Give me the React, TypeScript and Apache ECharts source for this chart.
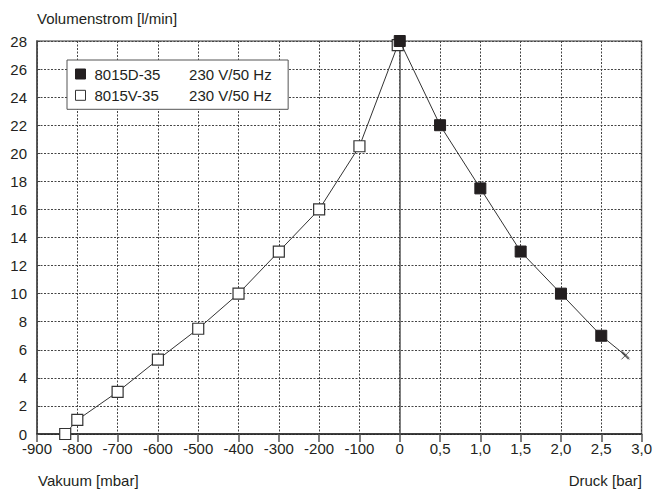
import React, { useEffect, useRef } from "react";
import * as echarts from "echarts";

// Vacuum side (8015V-35), x in mbar
const vacuumMbar = [-830, -800, -700, -600, -500, -400, -300, -200, -100, -5];
const vacuumFlow = [0, 1, 3, 5.3, 7.5, 10, 13, 16, 20.5, 27.7];
// Pressure side (8015D-35), x in bar
const pressureBar = [0, 0.5, 1.0, 1.5, 2.0, 2.5];
const pressureFlow = [28, 22, 17.5, 13, 10, 7];
const pressureEnd = [2.8, 5.6];

const seriesNames = ["8015D-35", "8015V-35"];
const supplyLabel = "230 V/50 Hz";
const yTitle = "Volumenstrom [l/min]";
const xTitleLeft = "Vakuum [mbar]";
const xTitleRight = "Druck [bar]";

// axis unit: 1 unit = 100 mbar on the left, 0.5 bar on the right
const fromMbar = (v: number) => v / 100;
const fromBar = (v: number) => v * 2;
const tickLabel = (u: number) =>
  u <= 0 ? String(Math.round(u * 100)) : (u / 2).toFixed(1).replace(".", ",");

const FONT = "'Liberation Sans', Arial, Helvetica, sans-serif";
const TXT = "#231f20";

export default function App() {
  const ref = useRef<HTMLDivElement>(null);
  useEffect(() => {
    document.body.style.margin = "0";
    if (!ref.current) return;
    const chart = echarts.init(ref.current, undefined, { renderer: "svg" });
    const vacData = vacuumMbar.map((x, i) => [fromMbar(x), vacuumFlow[i]]);
    const presData: any[] = pressureBar.map((x, i) => [fromBar(x), pressureFlow[i]]);
    presData.push({
      value: [fromBar(pressureEnd[0]), pressureEnd[1]],
      symbol: "path://M0,0L10,10M10,0L0,10M1.5,0L10,8.5M0,1.5L8.5,10",
      symbolSize: 8,
      itemStyle: { color: "none", borderColor: "#333", borderWidth: 0.8 },
    });
    chart.setOption({
      animation: false,
      backgroundColor: "#fff",
      textStyle: { fontFamily: FONT, color: TXT },
      grid: {
        left: 37,
        right: 13,
        top: 41,
        bottom: 56,
        show: true,
        borderColor: "#7a7a7a",
        borderWidth: 1.5,
        containLabel: false,
      },
      legend: {
        left: 67,
        top: 60,
        orient: "vertical",
        padding: [6.5, 16.5, 6.5, 8],
        itemGap: 6.3,
        itemWidth: 10,
        itemHeight: 10,
        backgroundColor: "#fff",
        borderColor: "#555",
        borderWidth: 1,
        borderRadius: 0,
        data: [
          { name: seriesNames[0], icon: "rect", itemStyle: { color: "#231f20", borderColor: "#231f20", borderWidth: 1 } },
          { name: seriesNames[1], icon: "rect", itemStyle: { color: "#fff", borderColor: "#333", borderWidth: 1 } },
        ],
        formatter: (name: string) => `{n|${name}}{v|${supplyLabel}}`,
        textStyle: {
          fontFamily: FONT,
          fontSize: 15,
          color: TXT,
          rich: {
            n: { width: 94.6, padding: [0, 0, 0, 4], fontSize: 15, lineHeight: 17, fontFamily: FONT, color: TXT },
            v: { fontSize: 15, lineHeight: 17, fontFamily: FONT, color: TXT },
          },
        },
      },
      xAxis: {
        type: "value",
        min: -9,
        max: 6,
        interval: 1,
        axisLine: { show: true, onZero: false, lineStyle: { color: "#222", width: 1.5 } },
        axisTick: { show: true, inside: false, length: 8, lineStyle: { color: "#555", width: 1.5 } },
        axisLabel: {
          formatter: tickLabel,
          fontSize: 15,
          color: TXT,
          fontFamily: FONT,
          margin: 7,
        },
        splitLine: { show: true, lineStyle: { color: "#444", width: 1, type: [2, 1.5] } },
      },
      yAxis: {
        type: "value",
        min: 0,
        max: 28,
        interval: 2,
        name: yTitle,
        nameLocation: "end",
        nameGap: 23,
        nameTextStyle: { align: "left", verticalAlign: "middle", fontSize: 15, color: TXT, fontFamily: FONT },
        axisLine: { show: true, onZero: false, lineStyle: { color: "#444", width: 1.5 } },
        axisTick: { show: true, inside: true, length: 3, lineStyle: { color: "#444", width: 1 } },
        axisLabel: { fontSize: 15, color: TXT, fontFamily: FONT, margin: 10 },
        splitLine: { show: true, lineStyle: { color: "#444", width: 1, type: [2, 1.5] } },
      },
      series: [
        {
          name: seriesNames[1],
          type: "line",
          data: vacData,
          symbol: "rect",
          symbolSize: 11,
          showAllSymbol: true,
          lineStyle: { color: "#333", width: 1 },
          itemStyle: { color: "#fff", borderColor: "#333", borderWidth: 1.2 },
          z: 3,
          markLine: {
            silent: true,
            symbol: "none",
            label: { show: false },
            lineStyle: { color: "#555", width: 1.5, type: "solid" },
            data: [{ xAxis: 0 }],
            z: 2,
          },
        },
        {
          name: seriesNames[0],
          type: "line",
          data: presData,
          symbol: "rect",
          symbolSize: 11,
          showAllSymbol: true,
          lineStyle: { color: "#333", width: 1 },
          itemStyle: { color: "#231f20", borderColor: "#231f20", borderWidth: 1 },
          z: 4,
        },
      ],
      graphic: [
        {
          type: "text",
          left: 38,
          top: 473,
          style: { text: xTitleLeft, font: `15px ${FONT}`, fill: TXT },
        },
        {
          type: "text",
          right: 13,
          top: 473,
          style: { text: xTitleRight, font: `15px ${FONT}`, fill: TXT },
        },
      ],
    });
    return () => chart.dispose();
  }, []);
  return <div ref={ref} style={{ width: 655, height: 490 }} />;
}
